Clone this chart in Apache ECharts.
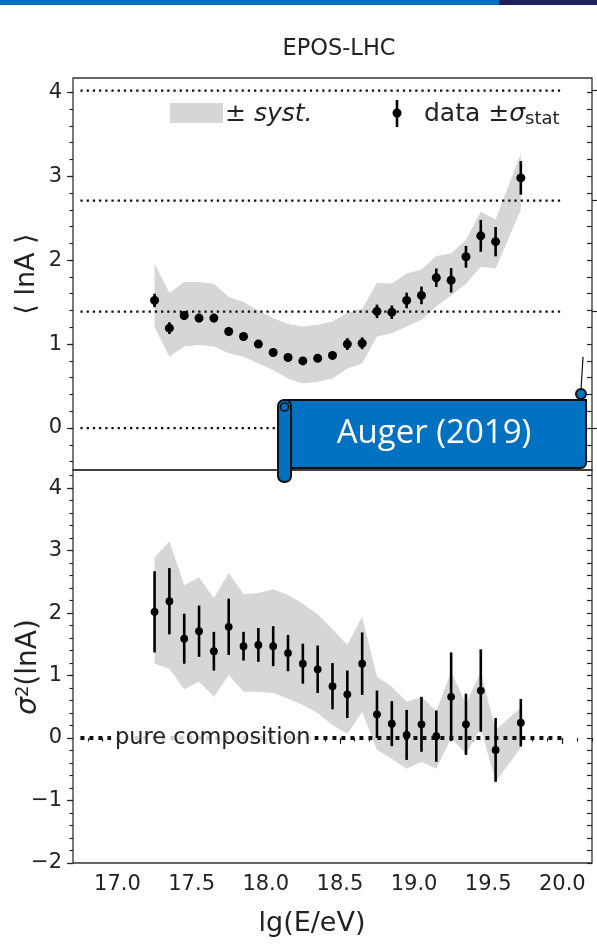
<!DOCTYPE html>
<html>
<head>
<meta charset="utf-8">
<script src="https://cdn.jsdelivr.net/npm/echarts@6/dist/echarts.min.js"></script>
<style>
html,body{margin:0;padding:0;background:#fff;}
#chart{width:597px;height:944px;}
</style>
</head>
<body>
<div id="chart"></div>
<script>
// ---- data ----
const energy = [17.25,17.35,17.45,17.55,17.65,17.75,17.85,17.95,18.05,18.15,18.25,18.35,18.45,18.55,18.65,18.75,18.85,18.95,19.05,19.15,19.25,19.35,19.45,19.55,19.72];

const lnAMean = [1.52,1.19,1.34,1.31,1.31,1.15,1.09,1.00,0.90,0.84,0.80,0.83,0.865,1.00,1.01,1.39,1.38,1.52,1.58,1.79,1.76,2.04,2.29,2.22,2.98];
const lnAStat = [0.08,0.07,0.05,0.05,0.05,0.05,0.03,0.03,0.03,0.03,0.03,0.035,0.045,0.07,0.07,0.08,0.08,0.093,0.105,0.11,0.145,0.13,0.19,0.175,0.2];
const lnASysHi = [1.96,1.61,1.74,1.74,1.72,1.56,1.50,1.40,1.31,1.24,1.21,1.23,1.27,1.37,1.42,1.73,1.72,1.84,1.89,2.05,2.08,2.24,2.58,2.48,3.27];
const lnASysLo = [1.20,0.85,0.97,0.99,0.97,0.89,0.85,0.77,0.69,0.59,0.53,0.55,0.59,0.71,0.77,1.09,1.13,1.21,1.29,1.45,1.58,1.72,1.92,1.90,2.60];

const varLnA = [2.02,2.19,1.59,1.71,1.39,1.78,1.47,1.49,1.47,1.36,1.19,1.10,0.83,0.70,1.19,0.38,0.23,0.05,0.22,0.03,0.66,0.22,0.76,-0.19,0.245];
const varStat = [0.65,0.53,0.40,0.41,0.31,0.45,0.23,0.27,0.32,0.29,0.32,0.38,0.37,0.38,0.50,0.38,0.36,0.40,0.44,0.41,0.71,0.49,0.66,0.51,0.38];
const varSysHi = [2.89,3.15,2.45,2.57,2.24,2.64,2.30,2.32,2.38,2.29,2.15,1.98,1.74,1.49,1.94,0.98,0.82,0.58,0.66,0.43,1.06,0.55,1.06,0.13,0.49];
const varSysLo = [1.19,1.11,0.78,0.90,0.66,1.01,0.74,0.74,0.72,0.63,0.53,0.40,0.21,0.07,0.42,-0.19,-0.33,-0.49,-0.38,-0.49,0.00,-0.25,0.16,-0.70,-0.16];

const compositionLines = [0, 1.386, 2.71, 4.02];   // p, He, N, Fe
const pureCompositionLevel = [0];
const refLineRange = [16.75, 20.0];

const xTicks = [17.0,17.5,18.0,18.5,19.0,19.5,20.0];
const yTicksTop = [0,1,2,3,4];
const yTicksBottom = [-2,-1,0,1,2,3,4];

// ---- helpers ----
function steps(a, b, s){ const r=[]; for(let v=a; v<=b+1e-9; v+=s) r.push(Math.round(v*100)/100); return r; }
const FONT = 'DejaVu Sans';
const INK = '#222';
function fmtNum(v){ return v < 0 ? '\u2212' + Math.abs(v) : String(v); }

function errRender(radius){
  return function(params, api){
    const x = api.value(0), y = api.value(1), e = api.value(2);
    const a = api.coord([x, y + e]), b = api.coord([x, y - e]), c = api.coord([x, y]);
    return {type:'group', children:[
      {type:'line', shape:{x1:a[0],y1:a[1],x2:b[0],y2:b[1]}, style:{stroke:'#000', lineWidth:2.6}},
      {type:'circle', shape:{cx:c[0],cy:c[1],r:radius}, style:{fill:'#000'}}
    ]};
  };
}
function bandRender(xs, lo, hi){
  return function(params, api){
    if (params.dataIndex !== 0) return null;
    const pts = [];
    for (let i=0;i<xs.length;i++) pts.push(api.coord([xs[i], hi[i]]));
    for (let i=xs.length-1;i>=0;i--) pts.push(api.coord([xs[i], lo[i]]));
    return {type:'polygon', shape:{points:pts}, style:{fill:'#d6d6d6'}};
  };
}

const chart = echarts.init(document.getElementById('chart'), null, {renderer:'canvas'});

function hiddenAxis(extra){ return Object.assign({type:'value', axisLine:{show:false}, axisLabel:{show:false}, axisTick:{show:false}, splitLine:{show:false}}, extra); }
function tickAxis(extra, values, len, inside){
  return Object.assign({type:'value', axisLine:{show:false}, splitLine:{show:false},
    axisLabel:{show:false},
    axisTick:{show:true, inside:!!inside, length:len, customValues:values, lineStyle:{color:INK, width:1.2}}}, extra);
}

const option = {
  animation: false,
  backgroundColor: '#fff',
  grid: [
    {left:73, top:78, width:519, height:392, show:true, borderColor:'#333', borderWidth:1.3, backgroundColor:'transparent'},
    {left:73, top:470, width:519, height:393, show:true, borderColor:'#333', borderWidth:1.3, backgroundColor:'transparent'}
  ],
  xAxis: [
    hiddenAxis({gridIndex:0, min:16.7, max:20.2}),
    Object.assign(tickAxis({gridIndex:1, min:16.7, max:20.2, position:'bottom'}, xTicks, 6, false), {
      axisLabel:{show:true, customValues:xTicks, margin:11, formatter:v=>Number(v).toFixed(1), color:INK, fontFamily:FONT, fontSize:21}
    }),
    tickAxis({gridIndex:1, min:16.7, max:20.2, position:'bottom'}, steps(16.8, 20.2, 0.1), 3.5, false)
  ],
  yAxis: [
    Object.assign(tickAxis({gridIndex:0, min:-0.5, max:4.17, position:'left'}, yTicksTop, 6, false), {
      axisLabel:{show:true, customValues:yTicksTop, margin:11, formatter:fmtNum, color:INK, fontFamily:FONT, fontSize:21}
    }),
    tickAxis({gridIndex:0, min:-0.5, max:4.17, position:'left'}, steps(-0.4, 4.1, 0.2), 3.5, false),
    tickAxis({gridIndex:0, min:-0.5, max:4.17, position:'right'}, steps(-0.4, 4.1, 0.2), 5, true),
    tickAxis({gridIndex:0, min:-0.5, max:4.17, position:'right'}, compositionLines, 7, false),
    Object.assign(tickAxis({gridIndex:1, min:-2, max:4.29, position:'left'}, yTicksBottom, 6, false), {
      axisLabel:{show:true, customValues:yTicksBottom, margin:11, formatter:fmtNum, color:INK, fontFamily:FONT, fontSize:21}
    }),
    tickAxis({gridIndex:1, min:-2, max:4.29, position:'left'}, steps(-2, 4.2, 0.2), 3.5, false),
    tickAxis({gridIndex:1, min:-2, max:4.29, position:'right'}, steps(-2, 4.2, 0.2), 5, true)
  ],
  series: []
};

// top panel
option.series.push({type:'custom', xAxisIndex:0, yAxisIndex:0, z:1,
  data: energy.map((x,i)=>[x, lnASysLo[i], lnASysHi[i]]), renderItem: bandRender(energy, lnASysLo, lnASysHi), silent:true});
compositionLines.forEach(v=>{
  option.series.push({type:'line', xAxisIndex:0, yAxisIndex:0, z:2, symbol:'none', silent:true,
    data: refLineRange.map(x=>[x, v]), lineStyle:{color:'#111', width:2.3, type:[2.3,3.9], cap:'butt'}});
});
option.series.push({type:'custom', xAxisIndex:0, yAxisIndex:0, z:3,
  data: energy.map((x,i)=>[x, lnAMean[i], lnAStat[i]]), renderItem: errRender(4.5)});

// bottom panel
option.series.push({type:'custom', xAxisIndex:1, yAxisIndex:4, z:1,
  data: energy.map((x,i)=>[x, varSysLo[i], varSysHi[i]]), renderItem: bandRender(energy, varSysLo, varSysHi), silent:true});
pureCompositionLevel.forEach(v=>{
  option.series.push({type:'line', xAxisIndex:1, yAxisIndex:4, z:2, symbol:'none', silent:true,
    data: refLineRange.map(x=>[x, v]), lineStyle:{color:'#111', width:4, type:[4,5], cap:'butt'}});
});
option.series.push({type:'custom', xAxisIndex:1, yAxisIndex:4, z:3,
  data: energy.map((x,i)=>[x, varLnA[i], varStat[i]]), renderItem: errRender(3.9)});

// texts & decorations
option.graphic = [
  {type:'rect', z:100, shape:{x:0, y:0, width:499, height:5}, style:{fill:'#0070C0'}},
  {type:'rect', z:100, shape:{x:499, y:0, width:98, height:5}, style:{fill:'#1f1f5c'}},
  {type:'text', z:100, x:339, y:49, style:{text:'EPOS-LHC', fontFamily:FONT, fontSize:22.5, fill:INK, align:'center', verticalAlign:'middle'}},
  {type:'text', z:100, x:27, y:274, rotation:Math.PI/2, style:{text:'\u27E8 lnA \u27E9', fontFamily:FONT, fontSize:27, fill:INK, align:'center', verticalAlign:'middle'}},
  {type:'text', z:100, x:29, y:667, rotation:Math.PI/2, style:{
    text:'{i|\u03C3}{s|2}{n|(lnA)}', align:'center', verticalAlign:'middle',
    rich:{
      i:{fontFamily:FONT, fontSize:28, fontStyle:'italic', fill:INK},
      s:{fontFamily:FONT, fontSize:18, fill:INK, verticalAlign:'top', padding:[0,0,11,0]},
      n:{fontFamily:FONT, fontSize:28, fill:INK}
    }}},
  {type:'text', z:100, x:312, y:924, style:{text:'lg(E/eV)', fontFamily:FONT, fontSize:27, fill:INK, align:'center', verticalAlign:'middle'}},
  // legend
  {type:'rect', z:100, shape:{x:170, y:103, width:53, height:20}, style:{fill:'#d6d6d6'}},
  {type:'text', z:100, x:225, y:114, style:{
    text:'{a|\u00B1 }{b|syst.}', verticalAlign:'middle', align:'left',
    rich:{a:{fontFamily:FONT, fontSize:25, fill:INK}, b:{fontFamily:FONT, fontSize:25, fontStyle:'italic', fill:INK}}}},
  {type:'line', z:100, shape:{x1:397, y1:100, x2:397, y2:127}, style:{stroke:'#000', lineWidth:2.6}},
  {type:'circle', z:100, shape:{cx:397, cy:113, r:4.5}, style:{fill:'#000'}},
  {type:'text', z:100, x:424, y:114, style:{
    text:'{a|data \u00B1}{b|\u03C3}{c|stat}', verticalAlign:'middle', align:'left',
    rich:{a:{fontFamily:FONT, fontSize:25, fill:INK}, b:{fontFamily:FONT, fontSize:25, fontStyle:'italic', fill:INK},
          c:{fontFamily:FONT, fontSize:18, fill:INK, padding:[11,0,0,0]}}}},
  // pure composition label
  {type:'text', z:100, x:111, y:738, style:{text:'pure composition', fontFamily:FONT, fontSize:22.5, fill:INK,
    align:'left', verticalAlign:'middle', backgroundColor:'rgba(255,255,255,0.8)', padding:[2,4,2,4]}},
  // banner "Auger (2019)"
  {type:'line', z:110, shape:{x1:581, y1:390, x2:583, y2:357}, style:{stroke:'#111', lineWidth:1.2}},
  {type:'rect', z:110, shape:{x:284, y:400, width:302, height:68, r:[0,0,5,0]}, style:{fill:'#0070C0', stroke:'#111', lineWidth:2}},
  {type:'circle', z:111, shape:{cx:581, cy:394, r:5}, style:{fill:'#0070C0', stroke:'#111', lineWidth:2}},
  {type:'rect', z:112, shape:{x:278, y:400, width:13, height:82, r:6}, style:{fill:'#0070C0', stroke:'#111', lineWidth:2}},
  {type:'circle', z:113, shape:{cx:284.5, cy:407, r:4}, style:{fill:'#0070C0', stroke:'#111', lineWidth:1.6}},
  {type:'text', z:114, x:434, y:434, style:{text:'Auger (2019)', fontFamily:'Open Sans', fontSize:33, fill:'#fff', align:'center', verticalAlign:'middle'}}
];

chart.setOption(option);
</script>
</body>
</html>
